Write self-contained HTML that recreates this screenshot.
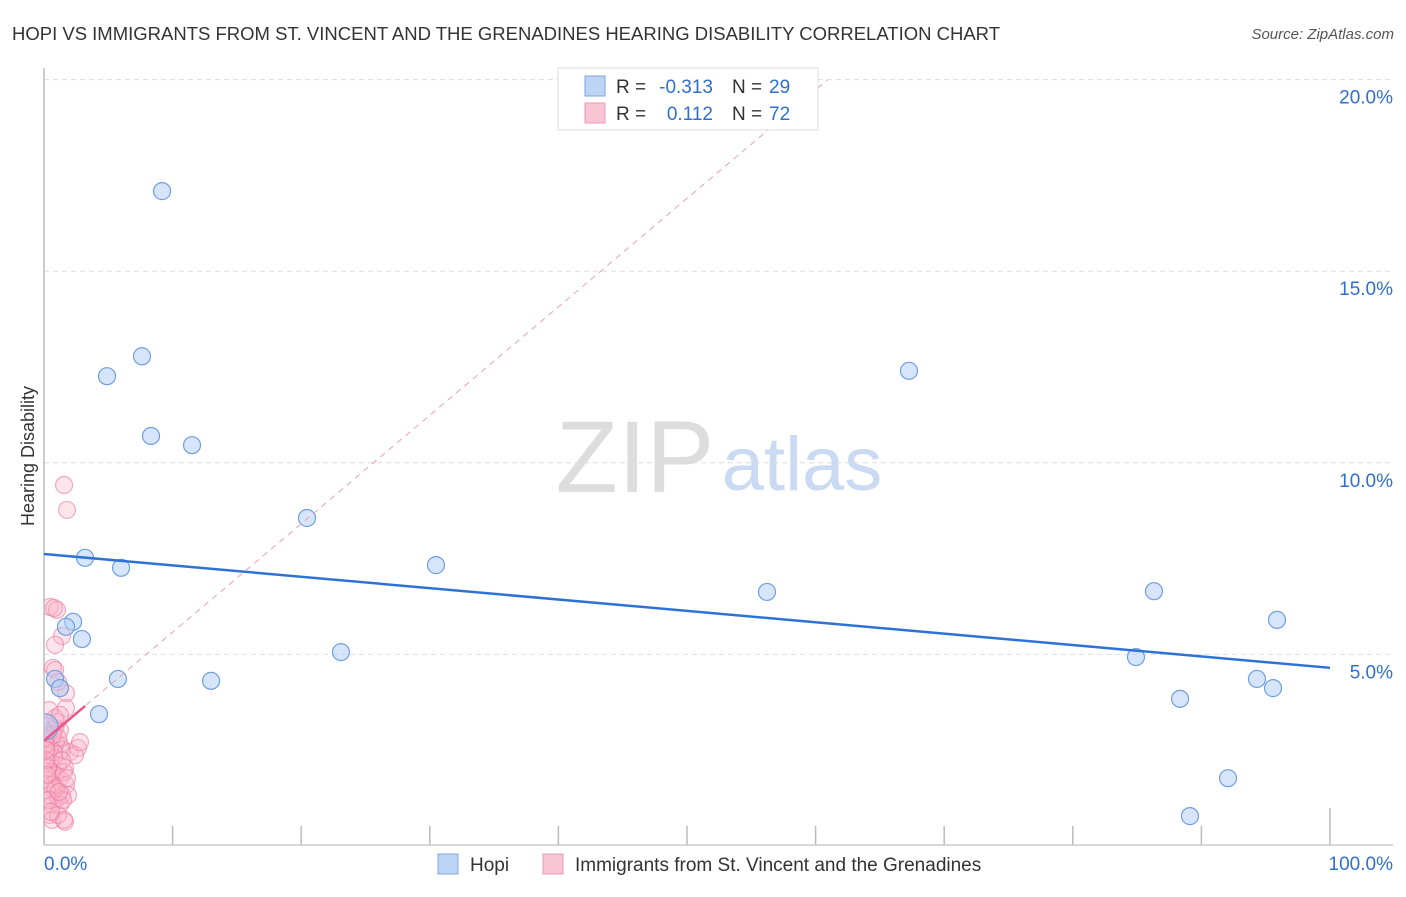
<!DOCTYPE html>
<html><head><meta charset="utf-8"><style>
body{margin:0;background:#fff;font-family:"Liberation Sans",sans-serif}
svg text{font-family:"Liberation Sans",sans-serif}
</style></head><body>
<svg id="chart" width="1406" height="892" xmlns="http://www.w3.org/2000/svg">
<defs><clipPath id="pc"><rect x="44" y="60" width="1360" height="790"/></clipPath></defs>
<text x="12" y="40" font-size="18" fill="#333" textLength="988" lengthAdjust="spacingAndGlyphs">HOPI VS IMMIGRANTS FROM ST. VINCENT AND THE GRENADINES HEARING DISABILITY CORRELATION CHART</text>
<text x="1394" y="39" font-size="15" fill="#555" text-anchor="end" font-style="italic">Source: ZipAtlas.com</text>
<text transform="translate(34,456) rotate(-90)" font-size="18" fill="#333" text-anchor="middle">Hearing Disability</text>
<g>
<text x="635" y="492" font-size="102" fill="#ddd" text-anchor="middle" font-family="Liberation Serif">ZIP</text>
<text x="802" y="490" font-size="76" fill="#c9daf2" text-anchor="middle">atlas</text>
</g>
<g id="grid"></g><g id="axes"></g><g id="marks" clip-path="url(#pc)"></g>
<g>
<rect x="558" y="68" width="260" height="62" fill="#fff" stroke="#ddd"/>
<rect x="585" y="76" width="20" height="20" fill="#bcd5f5" stroke="#7aa6e0"/>
<rect x="585" y="103" width="20" height="20" fill="#f9c4d4" stroke="#ee99b4"/>
<text x="616" y="93" font-size="19" fill="#333">R =</text>
<text x="713" y="93" font-size="19" fill="#2f6fd0" text-anchor="end">-0.313</text>
<text x="732" y="93" font-size="19" fill="#333">N =</text>
<text x="769" y="93" font-size="19" fill="#2f6fd0">29</text>
<text x="616" y="120" font-size="19" fill="#333">R =</text>
<text x="713" y="120" font-size="19" fill="#2f6fd0" text-anchor="end">0.112</text>
<text x="732" y="120" font-size="19" fill="#333">N =</text>
<text x="769" y="120" font-size="19" fill="#2f6fd0">72</text>
</g>
<g>
<rect x="438" y="854" width="20" height="20" fill="#bcd5f5" stroke="#7aa6e0"/>
<text x="470" y="871" font-size="19" fill="#333">Hopi</text>
<rect x="543" y="854" width="20" height="20" fill="#f9c4d4" stroke="#ee99b4"/>
<text x="575" y="871" font-size="19" fill="#333">Immigrants from St. Vincent and the Grenadines</text>
</g>
</svg>
<script>
const yTicks=[5,10,15,20];
const yTickLabels=["5.0%","10.0%","15.0%","20.0%"];
const hopiX=[9.18,7.62,4.90,8.32,11.51,20.45,3.19,5.99,30.48,2.26,1.71,2.95,23.09,0.86,1.24,5.75,12.99,4.28,67.26,56.22,86.31,95.88,84.91,88.34,94.32,95.57,92.07,89.11,0.08];
const hopiY=[17.09,12.78,12.26,10.70,10.46,8.56,7.52,7.26,7.33,5.85,5.72,5.40,5.06,4.36,4.12,4.36,4.31,3.44,12.40,6.63,6.65,5.90,4.93,3.84,4.36,4.12,1.77,0.78,3.11];
const vincX=[0.47,1.01,0.78,1.40,0.86,0.70,0.86,1.71,1.71,1.56,1.79,1.24,1.09,0.47,0.31,0.62,0.93,1.24,1.40,0.31,0.78,0.47,1.09,1.63,2.02,2.64,2.41,2.80,0.62,0.93,1.24,0.31,1.56,1.71,0.78,0.47,1.09,1.40,1.87,0.62,0.47,1.63,0.62,0.31,0.86,1.24,0.47,0.78,1.09,1.40,0.31,0.62,0.93,1.24,0.23,0.39,0.70,1.01,0.16,0.16,0.23,1.09,1.56,0.54,0.39,0.86,1.24,1.48,1.79,1.17,0.08,0.16];
const vincY=[6.24,6.16,6.21,5.48,5.25,4.65,4.59,3.99,3.60,9.42,8.77,4.12,4.28,3.03,2.90,2.77,2.71,2.64,2.51,2.37,2.30,2.19,2.11,2.04,2.45,2.56,2.37,2.71,1.93,1.85,1.77,1.72,1.93,1.59,1.46,1.33,1.25,1.33,1.33,1.07,0.81,0.63,0.68,3.16,3.08,3.03,2.56,2.45,2.82,2.24,2.04,1.59,1.51,1.07,1.46,1.20,2.90,3.24,2.64,2.24,1.85,0.81,0.68,0.89,3.55,3.34,3.42,1.20,1.77,1.41,2.82,2.51];
const hopiTrend=[7.62,4.65];
const vincTrend=[2.75,0.283];
const NS="http://www.w3.org/2000/svg";
const X=v=>44+v*12.86, Y=v=>846-v*38.32;
function mk(t,a,p){const e=document.createElementNS(NS,t);for(const k in a)e.setAttribute(k,a[k]);p.appendChild(e);return e;}
const grid=document.getElementById('grid'),axes=document.getElementById('axes'),marks=document.getElementById('marks');
yTicks.forEach((t,i)=>{
 const l=mk('line',{x1:44,x2:1393,y1:Y(t),y2:Y(t),stroke:'#ddd','stroke-dasharray':'5,4'},grid);
 
 
 const tx=mk('text',{x:1393,y:Y(t)+24,'font-size':19,fill:'#2f6fd0','text-anchor':'end'},axes);
 tx.textContent=yTickLabels[i];
 
 
});
mk('line',{x1:44,x2:44,y1:68,y2:845,stroke:'#bbb','stroke-width':1.5},axes);
mk('line',{x1:44,x2:1393,y1:845,y2:845,stroke:'#ccc','stroke-width':1.5},axes);
for(let i=1;i<=10;i++){const x=X(i*10);const t=mk('line',{x1:x,x2:x,y1:i==10?808:826,y2:845,stroke:'#bbb','stroke-width':1.5},axes);}
const x0=mk('text',{x:44,y:870,'font-size':19,fill:'#2f6fd0'},axes);x0.textContent='0.0%';

const x1=mk('text',{x:1393,y:870,'font-size':19,fill:'#2f6fd0','text-anchor':'end'},axes);x1.textContent='100.0%';

vincX.forEach((v,i)=>{const c=mk('circle',{cx:X(v),cy:Y(vincY[i]),r:8.5,fill:'rgba(248,180,200,0.35)',stroke:'rgba(236,120,160,0.6)','stroke-width':1.2},marks);
 });
hopiX.forEach((v,i)=>{const c=mk('circle',{cx:X(v),cy:Y(hopiY[i]),r:i==28?13:8.5,fill:'rgba(180,208,245,0.55)',stroke:'#6f9fe0','stroke-width':1.2},marks);
 });
const xe=(20-vincTrend[0])/vincTrend[1];
const d=mk('line',{x1:X(0),y1:Y(vincTrend[0]),x2:X(xe),y2:Y(20),stroke:'#e8a0b8','stroke-dasharray':'6,5','stroke-width':1},marks);

const s=mk('line',{x1:X(0),y1:Y(vincTrend[0]),x2:X(3.2),y2:Y(vincTrend[0]+3.2*vincTrend[1]),stroke:'#e8578a','stroke-width':2.5},marks);

const h=mk('line',{x1:X(0),y1:Y(hopiTrend[0]),x2:X(100),y2:Y(hopiTrend[1]),stroke:'#2f72d6','stroke-width':2.5},marks);

</script>
</body></html>
